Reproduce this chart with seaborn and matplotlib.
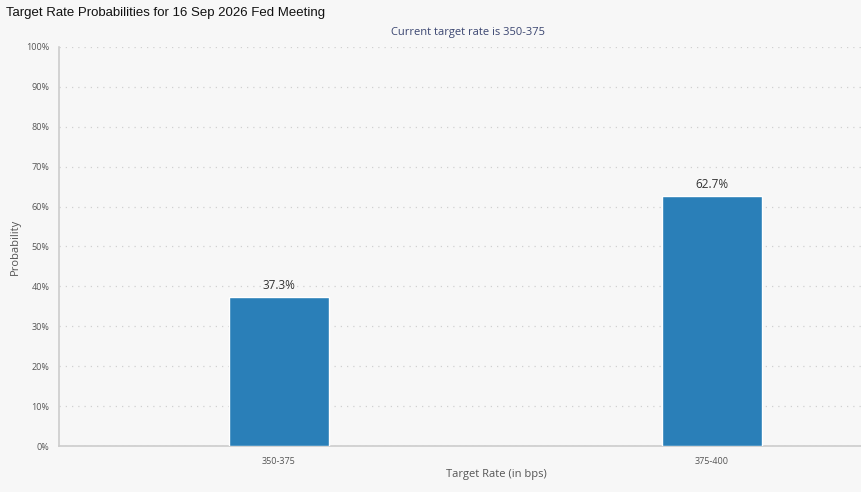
import matplotlib
matplotlib.use("Agg")
import matplotlib.pyplot as plt
import seaborn as sns
import pandas as pd
from matplotlib.ticker import FuncFormatter

categories = ["350-375", "375-400"]
probabilities = [37.3, 62.7]
bar_labels = ["37.3%", "62.7%"]

df = pd.DataFrame({"rate": categories, "prob": probabilities})

sns.set_style("white")
plt.rcParams['font.family'] = ['Open Sans', 'DejaVu Sans']

W, H = 861, 492
fig = plt.figure(figsize=(W / 100, H / 100), dpi=100, facecolor="#f7f7f7")
ax = fig.add_axes([59 / W, 1 - 446 / H, (861 - 59) / W, (446 - 47) / H])
ax.set_facecolor("#f7f7f7")

sns.barplot(data=df, x="rate", y="prob", color="#2a7fb8", width=0.23,
            saturation=1, ax=ax, zorder=3)

for p, lab in zip(ax.patches, bar_labels):
    ax.text(p.get_x() + p.get_width() / 2, p.get_height() + 1.2, lab,
            ha="center", va="bottom", fontsize=8.5, color="#333333")

ax.set_xlim(-0.508, 1.344)
ax.set_ylim(0, 100)
ax.set_yticks(range(0, 101, 10))
ax.yaxis.set_major_formatter(FuncFormatter(lambda v, _: f"{int(v)}%"))
ax.tick_params(axis="y", labelsize=6.5, colors="#555555", length=4, width=0.8,
               color="#cccccc", pad=3)
ax.tick_params(axis="x", labelsize=6.5, colors="#555555", length=5, width=0.8,
               color="#cccccc", pad=3)
ax.grid(axis="y", linestyle=(0, (1, 4)), color="#d0d0d0", linewidth=0.9, zorder=0)
ax.grid(axis="x", visible=False)

for s in ["top", "right"]:
    ax.spines[s].set_visible(False)
ax.spines["left"].set_color("#cccccc")
ax.spines["bottom"].set_color("#cccccc")
ax.spines["left"].set_linewidth(1.2)
ax.spines["bottom"].set_linewidth(1.2)

ax.set_xlabel("")
ax.set_ylabel("")
fig.text(15 / W, 1 - 247 / H, "Probability", rotation=90, ha="center", va="center",
         fontsize=8, color="#555555")
fig.text(496 / W, 1 - 474 / H, "Target Rate (in bps)", ha="center", va="center",
         fontsize=8, color="#555555")
fig.text(468 / W, 1 - 32 / H, "Current target rate is 350-375", ha="center",
         va="center", fontsize=8, color="#3a4570")
fig.text(6 / W, 1 - 13 / H, "Target Rate Probabilities for 16 Sep 2026 Fed Meeting",
         ha="left", va="center", fontsize=9.5, color="#111111",
         family=["Liberation Sans", "DejaVu Sans"])

fig.savefig("out.png", dpi=100, facecolor=fig.get_facecolor())
